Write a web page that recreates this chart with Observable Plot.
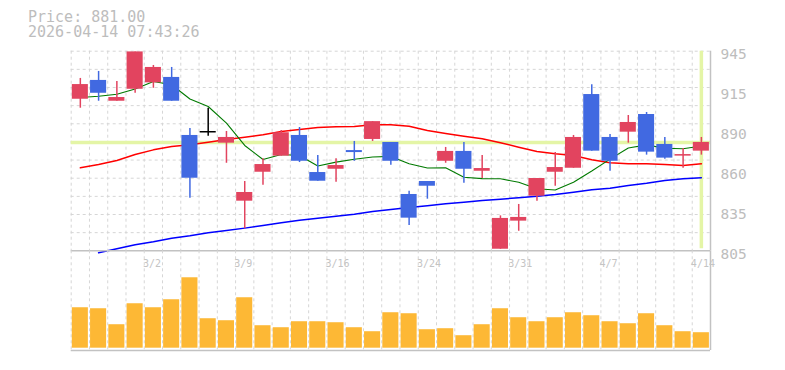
<!DOCTYPE html>
<html>
<head>
<meta charset="utf-8">
<script src="https://cdn.jsdelivr.net/npm/d3@7"></script>
<script src="https://cdn.jsdelivr.net/npm/@observablehq/plot@0.6"></script>
<style>
  html, body { margin: 0; padding: 0; background: #fff; }
  #wrap { position: relative; width: 785px; height: 370px; overflow: hidden; }
  #title { position: absolute; left: 28px; top: 10px; font: 15px "DejaVu Sans Mono", monospace; line-height: 15px; color: #bdbdbd; white-space: pre; }
  #price, #vol { position: absolute; left: 0; }
  #price { top: 0; }
  #vol { top: 250px; }
</style>
</head>
<body>
<div id="wrap">
  <div id="price"></div>
  <div id="vol"></div>
  <div id="title"></div>
</div>
<script>
// ---- data ----
const dates = ["2/24","2/25","2/26","2/27","3/2","3/3","3/4","3/5","3/6","3/9","3/10","3/11","3/12","3/13",
  "3/16","3/17","3/18","3/19","3/23","3/24","3/25","3/26","3/27","3/30","3/31","4/1","4/2","4/3",
  "4/6","4/7","4/8","4/9","4/10","4/13","4/14"];
const open  = [911.3,924.5,909.9,918.3,922.8,926.6,885.9,888.5,880.5,839.8,860.1,871.4,885.9,859.9,
  862.2,875.3,883.1,881.0,844.5,853.6,867.8,874.7,860.8,806.1,825.8,843.3,860.1,862.9,
  914.6,884.5,888.2,900.6,879.6,871.4,874.9];
const high  = [925.9,930.8,923.8,944.5,935.0,933.6,890.8,905.0,888.7,853.6,869.5,889.4,891.5,871.8,
  869.5,881.7,895.6,881.0,846.8,853.6,877.5,881.0,871.8,829.5,837.5,855.7,874.0,885.9,
  921.4,886.6,899.9,902.0,884.5,876.8,884.5];
const low   = [905.0,909.9,909.9,915.5,919.0,909.9,841.9,885.4,866.4,820.4,851.0,871.4,866.9,853.8,
  853.1,867.8,881.7,865.0,822.7,841.2,866.4,852.4,855.7,806.1,818.7,839.8,850.3,862.9,
  874.9,860.8,880.5,872.1,869.3,862.9,872.1];
const close = [921.6,915.5,912.5,944.5,933.6,909.9,855.9,888.5,884.5,845.9,865.5,887.8,867.8,853.8,
  864.8,873.9,895.6,867.8,827.9,850.3,874.7,862.2,862.7,827.7,828.4,855.7,863.4,884.5,
  874.9,867.8,895.0,874.2,870.0,872.5,881.0];
const volume = [81,79,47,89,81,97,141,59,55,101,45,41,53,53,51,41,33,71,69,37,39,25,47,79,61,53,61,71,65,53,49,69,45,33,31];
const ma5  = [912.5,913.4,914.8,918.5,923.7,921.5,911.5,906.2,894.5,878.9,869.0,872.5,871.8,864.5,
  867.2,869.2,870.8,871.2,866.0,863.1,863.3,856.6,855.6,855.5,853.1,848.5,847.6,853.1,
  861.0,869.3,877.1,879.3,876.9,876.6,878.5];
const ma25 = [863.2,865.5,868.3,872.5,875.8,878.2,879.4,881.2,883.1,884.7,886.4,888.7,890.1,891.5,
  892.0,892.2,893.4,893.4,892.4,889.4,887.3,885.4,883.6,880.8,877.7,874.7,873.0,871.8,
  868.8,866.7,866.0,866.0,865.5,864.8,866.0];
const ma75 = [null,803.6,806.4,809.2,811.3,813.8,815.5,817.6,819.2,820.9,822.7,824.6,826.5,827.9,
  829.3,830.7,832.6,834.0,835.3,836.6,838.0,839.1,840.3,841.2,842.2,843.3,844.5,846.1,
  847.8,848.9,850.8,852.4,854.3,855.5,856.2];
const yTicks = [805, 833, 861, 889, 917, 945];
const yTickLabels = ["805", "835", "860", "890", "915", "945"];
const xTickLabels = ["3/2", "3/9", "3/16", "3/24", "3/31", "4/7", "4/14"];
const lastPrice = 881.00;
const timestamp = "2026-04-14 07:43:26";

// ---- layout / style ----
const W = 785, ML = 70.7, MR = 75;
const step = (W - MR - ML) / dates.length;
const UP = "#e2445f", DOWN = "#4169e1", DOJI = "#000000";
const GRID = "#d6d6d6", FRAME = "#c2c2c2", TEXT = "#bdbdbd", HL = "#e4f5a6";
const FONT = "DejaVu Sans Mono, monospace";
const idx = d3.range(dates.length);
const colorOf = i => open[i] === close[i] ? DOJI : (close[i] > open[i] ? UP : DOWN);
const xScale = {type: "band", domain: dates, paddingInner: 0.12, paddingOuter: 0.06, round: false, axis: null};
const last = dates[dates.length - 1];

document.getElementById("title").textContent = "Price: " + lastPrice.toFixed(2) + "\n" + timestamp;

// ---- price panel ----
const gridY = d3.range(1, 12).map(k => 805 + k * (945 - 805) / 11);
const price = Plot.plot({
  width: W, height: 264,
  marginLeft: ML, marginRight: MR, marginTop: 50.7, marginBottom: 13.7,
  style: {background: "transparent", fontFamily: FONT},
  x: xScale,
  y: {domain: [805, 945], axis: null},
  marks: [
    Plot.ruleY(gridY, {stroke: GRID, strokeDasharray: "3,3", strokeWidth: 1}),
    Plot.ruleX(dates, {x: d => d, dx: -step / 2, stroke: GRID, strokeDasharray: "3,3", strokeWidth: 1}),
    Plot.ruleY([lastPrice], {stroke: HL, strokeWidth: 3.5}),
    Plot.ruleX([last], {x: d => d, stroke: HL, strokeWidth: 3.5, insetBottom: 2}),
    Plot.line(idx, {x: i => dates[i], y: i => ma75[i], stroke: "#0000ff", strokeWidth: 1.5}),
    Plot.line(idx, {x: i => dates[i], y: i => ma25[i], stroke: "#ff0000", strokeWidth: 1.5}),
    Plot.line(idx, {x: i => dates[i], y: i => ma5[i], stroke: "#007a00", strokeWidth: 1.1}),
    Plot.ruleX(idx, {x: i => dates[i], y1: i => low[i], y2: i => high[i], stroke: colorOf, strokeWidth: 1.5}),
    Plot.barY(idx, {x: i => dates[i], y1: i => open[i], y2: i => close[i], fill: colorOf}),
    Plot.tickY(idx.filter(i => open[i] === close[i]), {x: i => dates[i], y: i => open[i], stroke: DOJI, strokeWidth: 1.5}),
    Plot.ruleY([805], {stroke: FRAME, strokeWidth: 1.5}),
    Plot.ruleX([last], {x: d => d, dx: step / 2, stroke: FRAME, strokeWidth: 1.5}),
    Plot.text(yTicks, {y: d => d, text: (d, i) => yTickLabels[i], frameAnchor: "right", textAnchor: "start",
      dx: 10, dy: 3.2, fontSize: 14.5, fill: TEXT, fontFamily: FONT})
  ]
});
document.getElementById("price").append(price);

// ---- volume panel ----
const vol = Plot.plot({
  width: W, height: 105,
  marginLeft: ML, marginRight: MR, marginTop: 0.3, marginBottom: 5,
  style: {background: "transparent", fontFamily: FONT},
  x: xScale,
  y: {domain: [0, 195], range: [97.7, 0.3], axis: null},
  marks: [
    Plot.ruleX(dates, {x: d => d, dx: -step / 2, stroke: GRID, strokeDasharray: "3,3", strokeWidth: 1}),
    Plot.barY(idx, {x: i => dates[i], y: i => volume[i], fill: "#fdb835"}),
    Plot.ruleY([0], {dy: 2.3, stroke: FRAME, strokeWidth: 1.5}),
    Plot.ruleX([last], {x: d => d, dx: step / 2, stroke: FRAME, strokeWidth: 1.5}),
    Plot.text(xTickLabels, {x: d => d, text: d => d, frameAnchor: "top", textAnchor: "start", lineAnchor: "bottom",
      dx: -10.5, dy: 16.5, fontSize: 10, fill: "#c4c4c4", fontFamily: FONT})
  ]
});
document.getElementById("vol").append(vol);
</script>
</body>
</html>
